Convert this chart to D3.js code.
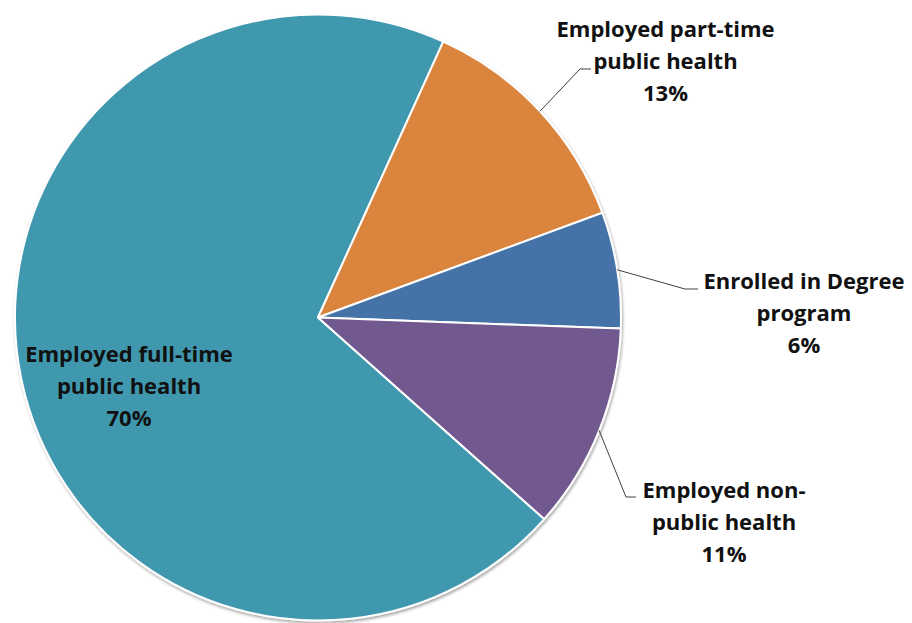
<!DOCTYPE html>
<html>
<head>
<meta charset="utf-8">
<script src="https://cdn.jsdelivr.net/npm/d3@7"></script>
<style>
  html, body { margin: 0; padding: 0; background: #fff; }
  svg { display: block; }
</style>
</head>
<body>
<svg id="chart" width="912" height="623"></svg>
<script>
// ---- Data ----
const categories = [
  ["Employed full-time", "public health"],
  ["Employed part-time", "public health"],
  ["Enrolled in Degree", "program"],
  ["Employed non-", "public health"]
];
const values = [70.2, 12.6, 6.2, 11.0];
const colors = ["#4198AF", "#DB843D", "#4572A7", "#71588F"];

// ---- Layout (not data) ----
const W = 912, H = 623;
const cx = 318, cy = 317.5, R = 303;
const startDeg = 131.7;
const labelLayout = [
  { x: 129, y: 361.5, leader: null },
  { x: 665.5, y: 37, leader: { elbow: [580, 69], end: [591, 69] } },
  { x: 804, y: 288.5, leader: { elbow: [685, 289], end: [698, 289] } },
  { x: 724, y: 498, leader: { elbow: [626, 497], end: [636, 497] } }
];
const lineH = 32;

const svg = d3.select("#chart");
const defs = svg.append("defs");
const f = defs.append("filter").attr("id", "shadow")
  .attr("x", "-10%").attr("y", "-10%").attr("width", "120%").attr("height", "120%");
f.append("feGaussianBlur").attr("in", "SourceAlpha").attr("stdDeviation", 1.5).attr("result", "b");
f.append("feOffset").attr("in", "b").attr("dx", 1).attr("dy", 1.5).attr("result", "o");
f.append("feComponentTransfer").attr("in", "o").attr("result", "o2")
  .append("feFuncA").attr("type", "linear").attr("slope", 0.35);
const m = f.append("feMerge");
m.append("feMergeNode").attr("in", "o2");
m.append("feMergeNode").attr("in", "SourceGraphic");

const total = d3.sum(values);
const rows = values.map((v, i) => ({ i, v, cat: categories[i], color: colors[i] }));

const pie = d3.pie().value(d => d.v).sort(null)
  .startAngle(startDeg * Math.PI / 180)
  .endAngle(startDeg * Math.PI / 180 + 2 * Math.PI);
const arcs = pie(rows);
const arc = d3.arc().innerRadius(0).outerRadius(R);

const g = svg.append("g").attr("transform", `translate(${cx},${cy})`);
g.append("g").attr("filter", "url(#shadow)")
  .selectAll("path").data(arcs).join("path")
  .attr("d", arc)
  .attr("fill", d => d.data.color)
  .attr("stroke", "#fff")
  .attr("stroke-width", 2)
  .attr("stroke-linejoin", "round");

const fmt = d3.format(".0%");

arcs.forEach((a, k) => {
  const L = labelLayout[k].leader;
  if (!L) return;
  const mid = (a.startAngle + a.endAngle) / 2;
  const p0 = [cx + R * Math.sin(mid), cy - R * Math.cos(mid)];
  svg.append("polyline")
    .attr("points", [p0, L.elbow, L.end].map(p => p.join(",")).join(" "))
    .attr("fill", "none")
    .attr("stroke", "#404040")
    .attr("stroke-width", 1);
});

arcs.forEach((a, k) => {
  const lay = labelLayout[k];
  const lines = [...a.data.cat, fmt(a.data.v / total)];
  const t = svg.append("text")
    .attr("text-anchor", "middle")
    .attr("font-family", "'Open Sans', 'Noto Sans', sans-serif")
    .attr("font-weight", "bold")
    .attr("font-size", 22)
    .attr("fill", "#111");
  lines.forEach((s, j) => {
    t.append("tspan").attr("x", lay.x).attr("y", lay.y + j * lineH).text(s);
  });
});
</script>
</body>
</html>
